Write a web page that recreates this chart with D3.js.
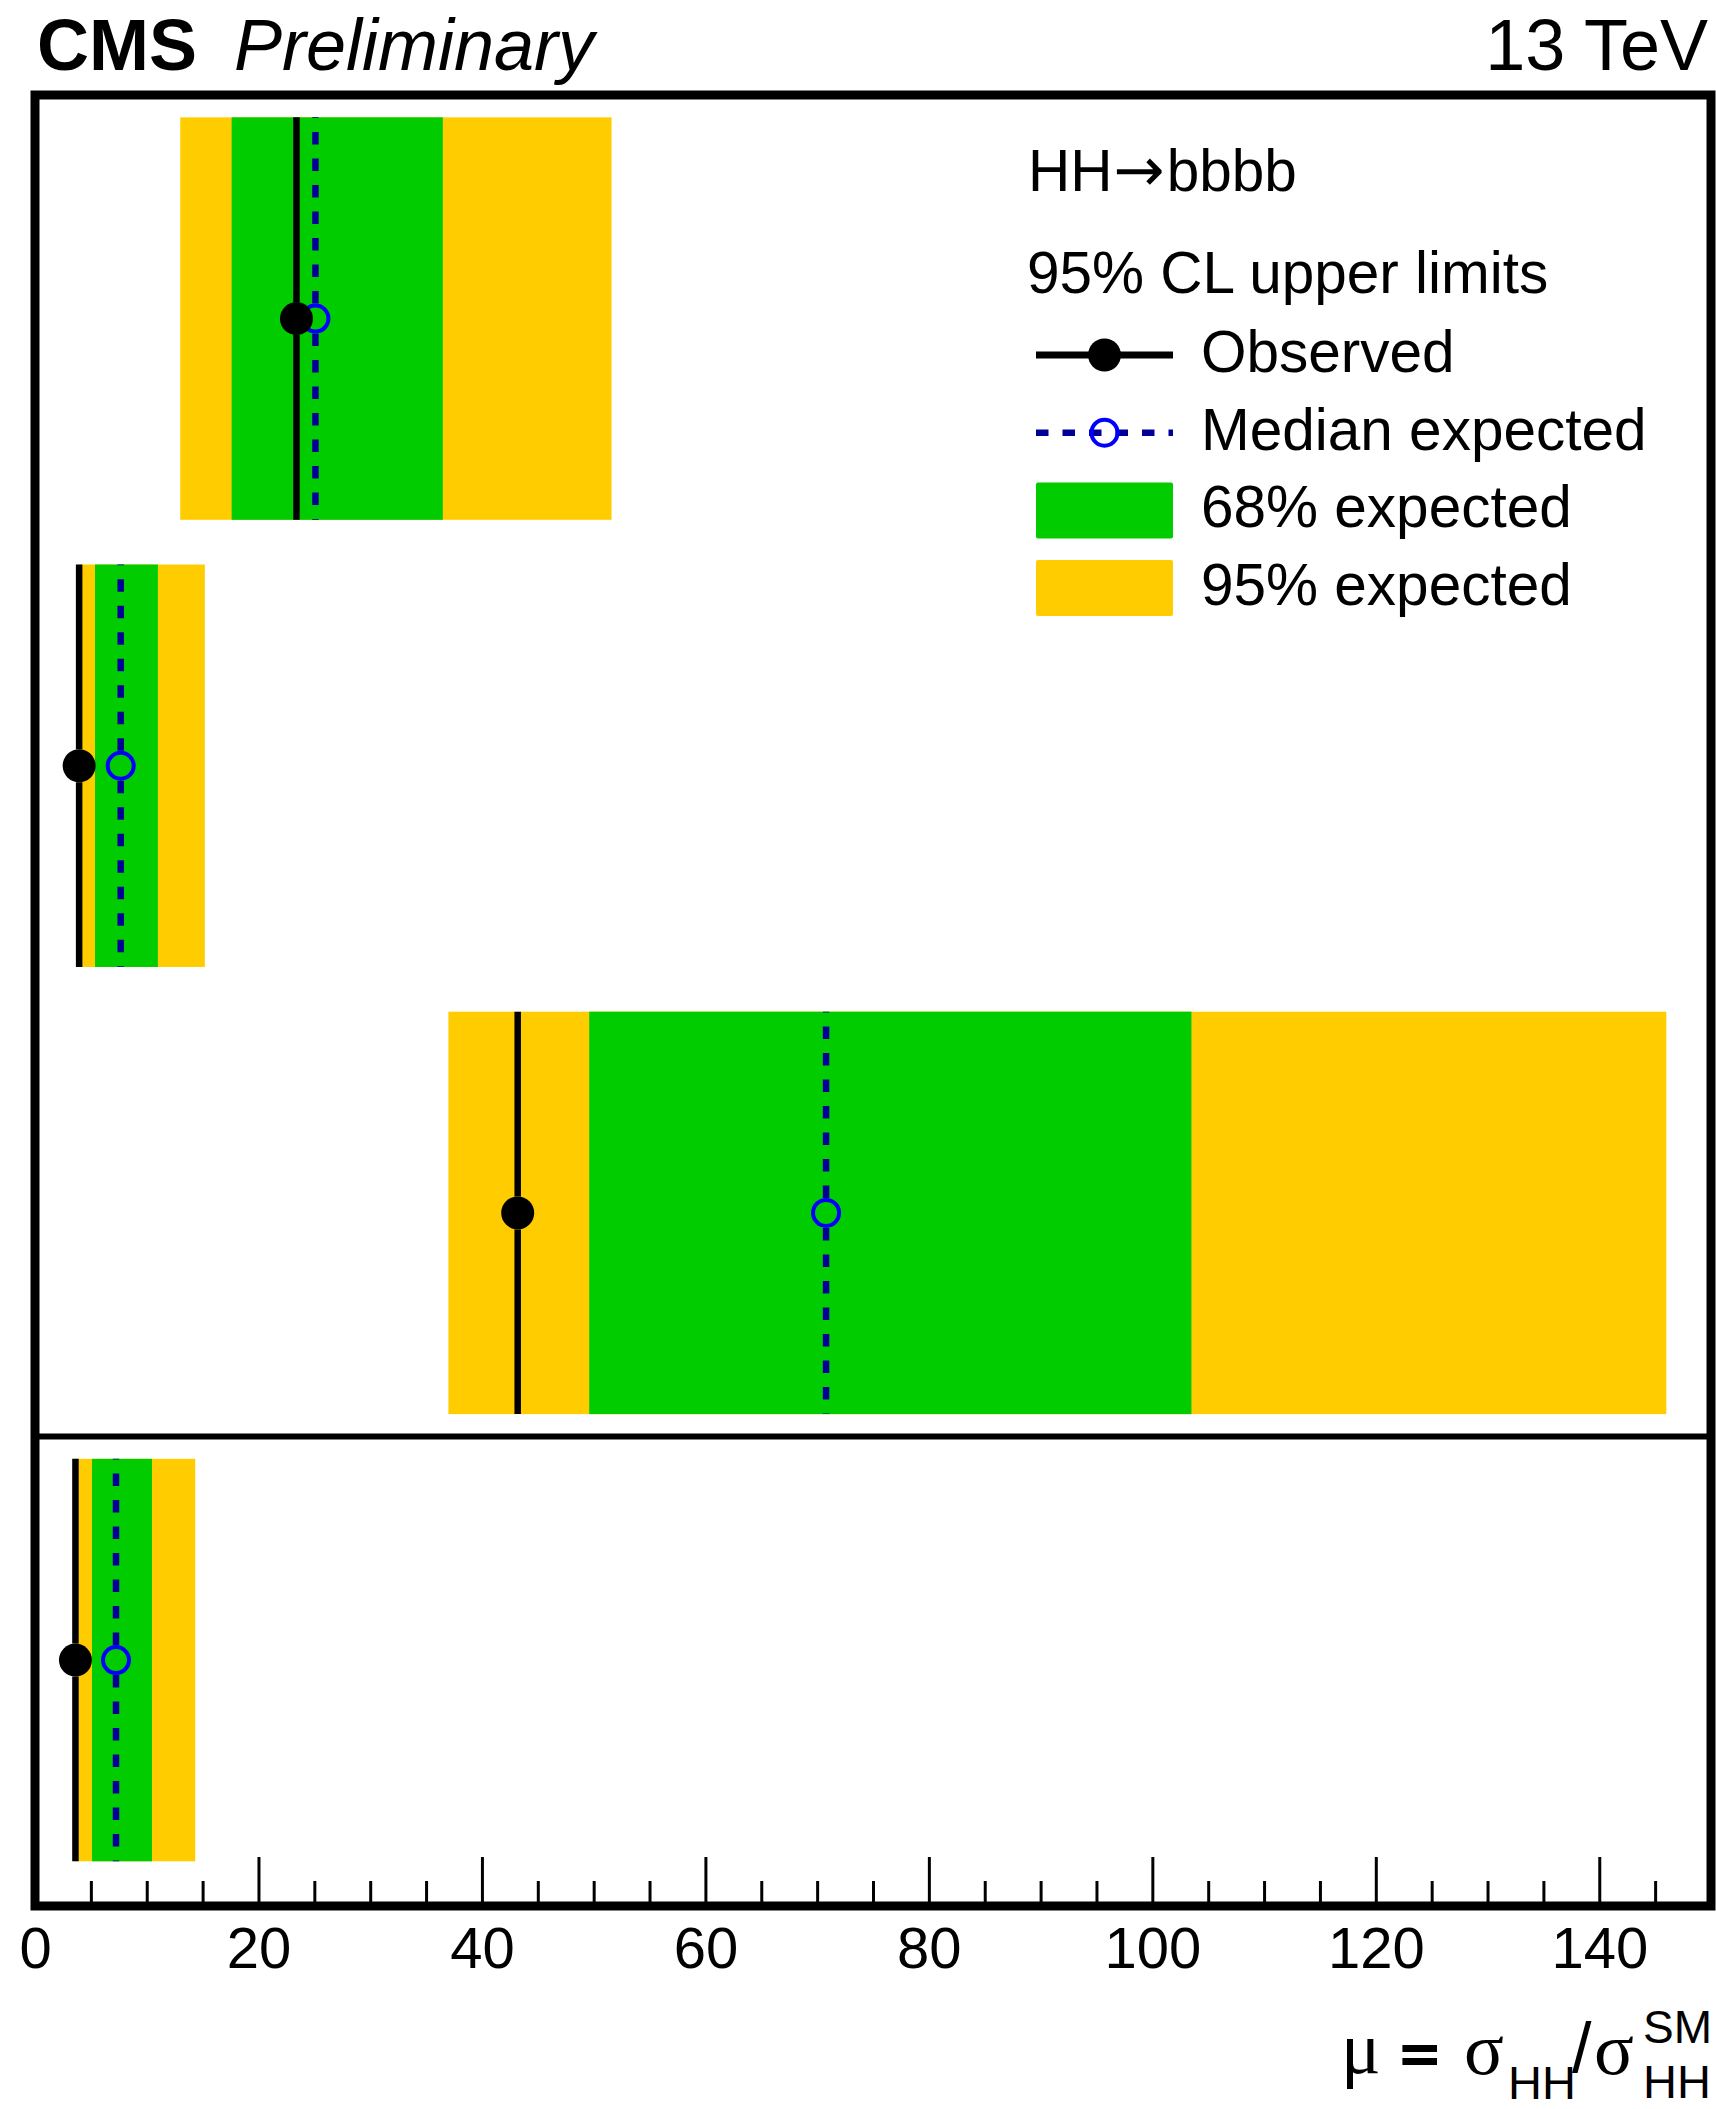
<!DOCTYPE html>
<html>
<head>
<meta charset="utf-8">
<script src="https://cdn.jsdelivr.net/npm/d3@7"></script>
<style>
  html, body { margin: 0; padding: 0; background: #ffffff; }
  svg { display: block; font-family: "Liberation Sans", Arial, Helvetica, sans-serif; }
</style>
</head>
<body>
<svg id="chart" width="1716" height="2109"></svg>
<script>
// Upper limits on the signal strength, one row per category (top to bottom)
const categories     = ["Category 1", "Category 2", "Category 3", "Combination"];
const observed       = [23.4, 3.95, 43.2, 3.62];
const expectedMedian = [25.1, 7.67, 70.8, 7.25];
const expected95Low  = [13.0, 3.85, 37.0, 3.55];
const expected68Low  = [17.6, 5.37, 49.6, 5.10];
const expected68High = [36.5, 11.0, 103.5, 10.47];
const expected95High = [51.6, 15.2, 146.0, 14.34];

const xMajorTicks = [0, 20, 40, 60, 80, 100, 120, 140];
const xMinorTicks = [5, 10, 15, 25, 30, 35, 45, 50, 55, 65, 70, 75, 85, 90, 95,
                     105, 110, 115, 125, 130, 135, 145];
const legendLabels = ["Observed", "Median expected", "68% expected", "95% expected"];

const rows = categories.map((c, i) => ({
  name: c, idx: i,
  obs: observed[i], exp: expectedMedian[i],
  lo2: expected95Low[i], lo1: expected68Low[i],
  hi1: expected68High[i], hi2: expected95High[i]
}));

const C = {
  yellow: "#FFCC00", green: "#00CC00", black: "#000000",
  navy: "#000099", blue: "#0000FF"
};

const svg = d3.select("#chart");
const frame = { left: 35, right: 1711, top: 95, bottom: 1906 };

const x = d3.scaleLinear().domain([0, 150]).range([frame.left, frame.right]);
// rows sit at integer slots counted from the top; a small margin below the last one
const y = d3.scaleLinear().domain([0, 4.05]).range([frame.top, frame.bottom]);

const plot = svg.append("g");

// bands
plot.selectAll("rect.b95").data(rows).join("rect")
  .attr("class", "b95")
  .attr("x", d => x(d.lo2)).attr("width", d => x(d.hi2) - x(d.lo2))
  .attr("y", d => y(d.idx + 0.05)).attr("height", d => y(d.idx + 0.95) - y(d.idx + 0.05))
  .attr("fill", C.yellow);

plot.selectAll("rect.b68").data(rows).join("rect")
  .attr("class", "b68")
  .attr("x", d => x(d.lo1)).attr("width", d => x(d.hi1) - x(d.lo1))
  .attr("y", d => y(d.idx + 0.05)).attr("height", d => y(d.idx + 0.95) - y(d.idx + 0.05))
  .attr("fill", C.green);

// vertical bars: drawn outward from the marker, stopping at its edge
const gapObs = 16.5, gapExp = 15;
function bars(cls, key, gap, stroke, width, dash) {
  const segs = [];
  rows.forEach(d => {
    const yc = y(d.idx + 0.5);
    segs.push({ x: x(d[key]), y1: yc - gap, y2: y(d.idx + 0.05) });
    segs.push({ x: x(d[key]), y1: yc + gap, y2: y(d.idx + 0.95) });
  });
  plot.selectAll("line." + cls).data(segs).join("line")
    .attr("class", cls)
    .attr("x1", s => s.x).attr("x2", s => s.x)
    .attr("y1", s => s.y1).attr("y2", s => s.y2)
    .attr("stroke", stroke).attr("stroke-width", width)
    .attr("stroke-dasharray", dash);
}
bars("obsbar", "obs", gapObs, C.black, 6.5, null);
bars("expbar", "exp", gapExp, C.navy, 6.5, "12.5 14");

// markers
plot.selectAll("circle.exp").data(rows).join("circle")
  .attr("class", "exp")
  .attr("cx", d => x(d.exp)).attr("cy", d => y(d.idx + 0.5)).attr("r", 13)
  .attr("fill", "none").attr("stroke", C.blue).attr("stroke-width", 4);

plot.selectAll("circle.obs").data(rows).join("circle")
  .attr("class", "obs")
  .attr("cx", d => x(d.obs)).attr("cy", d => y(d.idx + 0.5)).attr("r", 16.5)
  .attr("fill", C.black);

// separator before the combined row
svg.append("line")
  .attr("x1", frame.left).attr("x2", frame.right)
  .attr("y1", y(categories.length - 1)).attr("y2", y(categories.length - 1))
  .attr("stroke", C.black).attr("stroke-width", 6);

// x axis: ticks point up into the frame
const axMajor = d3.axisBottom(x).tickValues(xMajorTicks).tickFormat(d3.format("d"))
  .tickSizeInner(-49).tickSizeOuter(0).tickPadding(21);
const gMajor = svg.append("g").attr("transform", `translate(0,${frame.bottom})`).call(axMajor);
gMajor.select(".domain").remove();
gMajor.selectAll(".tick line").attr("stroke", C.black).attr("stroke-width", 3);
gMajor.selectAll(".tick text")
  .attr("fill", C.black)
  .style("font-family", "'Liberation Sans', Arial, sans-serif")
  .style("font-size", "58px");

const axMinor = d3.axisBottom(x).tickValues(xMinorTicks).tickFormat("")
  .tickSizeInner(-25).tickSizeOuter(0);
const gMinor = svg.append("g").attr("transform", `translate(0,${frame.bottom})`).call(axMinor);
gMinor.select(".domain").remove();
gMinor.selectAll(".tick line").attr("stroke", C.black).attr("stroke-width", 3);

// frame
svg.append("rect")
  .attr("x", frame.left).attr("y", frame.top)
  .attr("width", frame.right - frame.left).attr("height", frame.bottom - frame.top)
  .attr("fill", "none").attr("stroke", C.black).attr("stroke-width", 9);

// header
svg.append("text").attr("x", 37).attr("y", 70)
  .style("font-weight", "bold").style("font-size", "72px").text("CMS");
svg.append("text").attr("x", 234).attr("y", 70)
  .style("font-style", "italic").style("font-size", "72px").text("Preliminary");
svg.append("text").attr("x", 1708).attr("y", 70).attr("text-anchor", "end")
  .style("font-size", "72px").text("13 TeV");

// legend
const lg = svg.append("g").style("font-size", "58.5px");
const head = lg.append("text").attr("x", 1028).attr("y", 191);
head.append("tspan").text("HH");
head.append("tspan").attr("dx", 1)
  .style("font-family", "'DejaVu Sans', sans-serif").style("font-size", "61px").text("\u2192");
head.append("tspan").attr("dx", 2).text("bbbb");
lg.append("text").attr("x", 1027).attr("y", 293).text("95% CL upper limits");

const symX0 = 1036, symX1 = 1173, symXc = 1104.5, txtX = 1201;
const baseY = i => 372 + i * 77.7;
legendLabels.forEach((lab, i) => {
  const cy = baseY(i) - 17;
  if (i === 0) {
    lg.append("line").attr("x1", symX0).attr("x2", symX1).attr("y1", cy).attr("y2", cy)
      .attr("stroke", C.black).attr("stroke-width", 7);
    lg.append("circle").attr("cx", symXc).attr("cy", cy).attr("r", 16.5).attr("fill", C.black);
  } else if (i === 1) {
    lg.append("line").attr("x1", symX0).attr("x2", symX1).attr("y1", cy).attr("y2", cy)
      .attr("stroke", C.navy).attr("stroke-width", 6.5).attr("stroke-dasharray", "12.5 14");
    lg.append("circle").attr("cx", symXc).attr("cy", cy).attr("r", 13)
      .attr("fill", "none").attr("stroke", C.blue).attr("stroke-width", 4);
  } else {
    lg.append("rect").attr("x", symX0).attr("y", cy - 28).attr("width", symX1 - symX0)
      .attr("height", 56).attr("rx", 2).attr("fill", i === 2 ? C.green : C.yellow);
  }
  lg.append("text").attr("x", txtX).attr("y", baseY(i)).text(lab);
});

// x-axis title: mu = sigma_HH / sigma_HH^SM
const xt = svg.append("g");
const serif = "'Liberation Serif', 'DejaVu Serif', serif";
xt.append("text").attr("x", 1341).attr("y", 2073)
  .style("font-family", serif).style("font-size", "74px").text("\u03bc");
xt.append("text").attr("transform", "translate(1401,2071) scale(1,0.72)")
  .style("font-size", "64px").style("font-weight", "bold")
  .attr("stroke", C.black).attr("stroke-width", 2.5).text("=");
xt.append("text").attr("x", 1464).attr("y", 2074)
  .style("font-family", serif).style("font-size", "74px").text("\u03c3");
xt.append("text").attr("x", 1508).attr("y", 2099)
  .style("font-size", "47px").text("HH");
xt.append("text").attr("x", 1572).attr("y", 2072)
  .style("font-size", "70px").text("/");
xt.append("text").attr("x", 1594).attr("y", 2074)
  .style("font-family", serif).style("font-size", "74px").text("\u03c3");
xt.append("text").attr("x", 1643).attr("y", 2043)
  .style("font-size", "46px").text("SM");
xt.append("text").attr("x", 1643).attr("y", 2098)
  .style("font-size", "47px").text("HH");
</script>
</body>
</html>
